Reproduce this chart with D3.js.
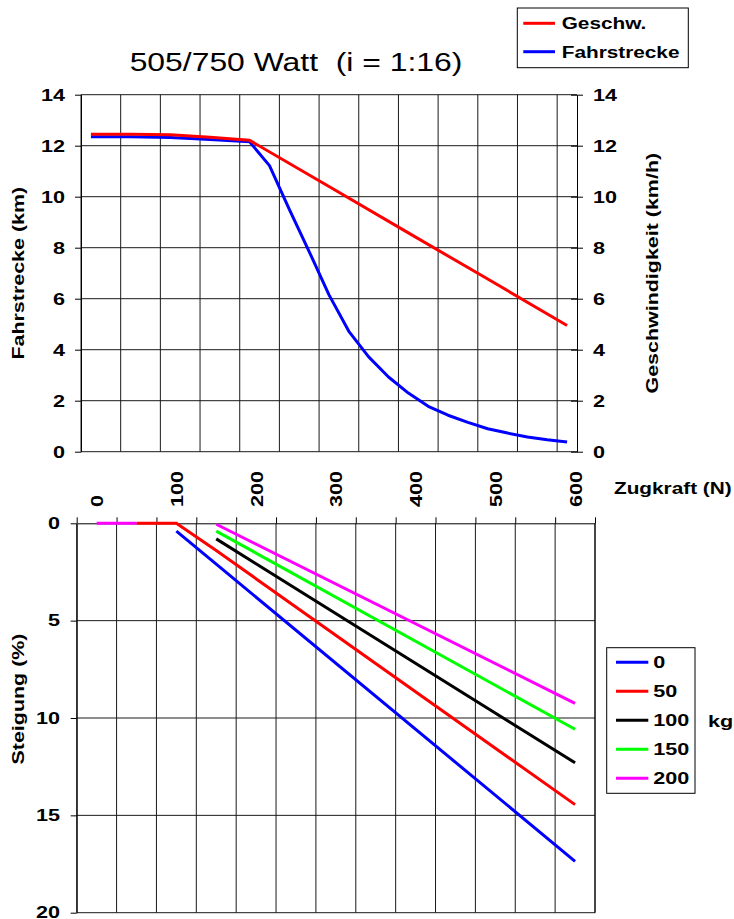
<!DOCTYPE html>
<html>
<head>
<meta charset="utf-8">
<script src="https://cdn.jsdelivr.net/npm/d3@7"></script>
<style>
html,body{margin:0;padding:0;background:#fff;}
svg{display:block;}
text{font-family:"Liberation Sans",Arial,sans-serif;white-space:pre;}
</style>
</head>
<body>
<svg id="c" width="734" height="919"></svg>
<script>
// ---------------- DATA ----------------
const title = "505/750 Watt  (i = 1:16)";
// Top chart
const fahrForce = [0,50,100,150,200,225,250,275,300,325,350,375,400,425,450,475,500,525,550,575,600];
const fahrstrecke = [12.35,12.35,12.32,12.24,12.15,11.22,9.5,7.85,6.15,4.72,3.72,2.93,2.3,1.78,1.43,1.15,0.9,0.73,0.58,0.47,0.38];
const geschwForce = [0,50,100,150,200,300,400,500,600];
const geschw = [12.45,12.45,12.43,12.33,12.21,10.4,8.58,6.77,4.95];
const topYTicks = [0,2,4,6,8,10,12,14];
const topLegend = ["Geschw.","Fahrstrecke"];
// Bottom chart
const steigForce = [0,50,100,150,600];
const massLabels = ["0","50","100","150","200"];
const steig0   = [null,null,0.4,2.1,17.36];
const steig50  = [null,0,0,1.4,14.45];
const steig100 = [null,null,null,0.8,12.3];
const steig150 = [null,null,null,0.4,10.58];
const steig200 = [0,0,null,0.05,9.25];
const bottomYTicks = [0,5,10,15,20];
const xTickLabels = [0,100,200,300,400,500,600];

// ---------------- DRAW ----------------
const svg = d3.select("#c");
const SX = 1.27; // horizontal stretch of glyphs
const FONT = 17;

function txt(g, x, y, s, o={}) {
  const rot = o.rotate ? ` rotate(${o.rotate})` : "";
  return g.append("text")
    .attr("transform", `translate(${x},${y})${rot} scale(${o.sx||SX},1)`)
    .attr("text-anchor", o.anchor || "start")
    .attr("dy", o.dy || 0)
    .attr("font-size", o.size || FONT)
    .attr("font-weight", o.weight || "bold")
    .attr("fill", "#000")
    .text(s);
}
function styleTicks(sel) {
  sel.attr("font-size", FONT).attr("font-weight", "bold")
    .attr("font-family", "Liberation Sans, Arial, sans-serif").attr("fill","#000");
}

// Title
txt(svg, 296, 70.5, title, {anchor:"middle", size:25.5, weight:"normal", sx:1.25});

// ---- Top chart ----
const xT = d3.scaleLinear([-12.5, 612.5], [81, 577]);
const yT = d3.scaleLinear([0, 14], [451.7, 94.7]);
const gT = svg.append("g");
const gridC = "#1a1a1a";
gT.selectAll(".vg").data(d3.range(-12.5, 600, 50)).join("line")
  .attr("x1", d=>xT(d)).attr("x2", d=>xT(d)).attr("y1", yT(0)).attr("y2", yT(14))
  .attr("stroke", gridC).attr("stroke-width", 1);
gT.selectAll(".hg").data(topYTicks).join("line")
  .attr("x1", xT(-12.5)).attr("x2", xT(612.5)).attr("y1", d=>yT(d)).attr("y2", d=>yT(d))
  .attr("stroke", gridC).attr("stroke-width", 1);
// left axis
const axL = gT.append("g").attr("transform", `translate(${xT(-12.5)},0)`)
  .call(d3.axisLeft(yT).tickValues(topYTicks).tickSize(6).tickSizeOuter(0).tickFormat(d3.format("d")));
axL.select(".domain").attr("stroke", "#000");
axL.selectAll(".tick line").attr("stroke", "#000");
styleTicks(axL.selectAll(".tick text").attr("x", null).attr("dy", "0.36em")
  .attr("transform", `translate(-16,0) scale(${SX},1)`));
// right axis
const axR = gT.append("g").attr("transform", `translate(${xT(612.5)},0)`)
  .call(d3.axisRight(yT).tickValues(topYTicks).tickSizeInner(6).tickSizeOuter(0).tickFormat(d3.format("d")));
axR.select(".domain").attr("stroke", "#000");
axR.selectAll(".tick line").attr("stroke", "#000").attr("x1", -6);
styleTicks(axR.selectAll(".tick text").attr("x", null).attr("dy", "0.36em")
  .attr("transform", `translate(16,0) scale(${SX},1)`));

const lineT = d3.line().x(d=>xT(d[0])).y(d=>yT(d[1]));
gT.append("path").datum(fahrForce.map((f,i)=>[f, fahrstrecke[i]]))
  .attr("d", lineT).attr("fill","none").attr("stroke","#0000ff").attr("stroke-width",3).attr("stroke-linejoin","round");
gT.append("path").datum(geschwForce.map((f,i)=>[f, geschw[i]]))
  .attr("d", lineT).attr("fill","none").attr("stroke","#ff0000").attr("stroke-width",3).attr("stroke-linejoin","round");

txt(svg, 18, (yT(0)+yT(14))/2, "Fahrstrecke (km)", {rotate:-90, anchor:"middle", dy:"0.36em", size:16.5, sx:1.3});
txt(svg, 652, (yT(0)+yT(14))/2, "Geschwindigkeit (km/h)", {rotate:-90, anchor:"middle", dy:"0.36em", size:16.5, sx:1.3});

// top legend
const lgT = svg.append("g");
lgT.append("rect").attr("x",517.3).attr("y",8).attr("width",171).attr("height",59.7)
  .attr("fill","#fff").attr("stroke","#000").attr("stroke-width",1);
const topLegColors = ["#ff0000","#0000ff"];
topLegend.forEach((s,i)=>{
  const y = 23.3 + i*28.4;
  lgT.append("line").attr("x1",523.3).attr("x2",555).attr("y1",y).attr("y2",y)
    .attr("stroke",topLegColors[i]).attr("stroke-width",3);
  txt(lgT, 561.7, y, s, {dy:"0.36em", size:16.5, sx:1.26});
});

// ---- Bottom chart ----
const xB = d3.scaleLinear([-25, 625], [76.7, 595]);
const yB = d3.scaleLinear([0, 20], [523.3, 912.7]);
const gB = svg.append("g");
gB.selectAll(".vg").data(d3.range(-25, 626, 50)).join("line")
  .attr("x1", d=>xB(d)).attr("x2", d=>xB(d)).attr("y1", yB(0)).attr("y2", yB(20))
  .attr("stroke", gridC).attr("stroke-width", 1);
gB.selectAll(".hg").data(bottomYTicks.slice(1)).join("line")
  .attr("x1", xB(-25)).attr("x2", xB(625)).attr("y1", d=>yB(d)).attr("y2", d=>yB(d))
  .attr("stroke", gridC).attr("stroke-width", 1);
// top axis (ticks)
const axTop = gB.append("g").attr("transform", `translate(0,${yB(0)})`)
  .call(d3.axisTop(xB).tickValues(d3.range(-25, 626, 50)).tickSize(6).tickSizeOuter(0).tickFormat(""));
axTop.select(".domain").attr("stroke","#000");
axTop.selectAll(".tick line").attr("stroke","#000");
// top axis labels
const axTopL = gB.append("g").attr("transform", `translate(0,507)`)
  .call(d3.axisTop(xB).tickValues(xTickLabels).tickSize(0).tickSizeOuter(0).tickFormat(d3.format("d")));
axTopL.select(".domain").remove();
styleTicks(axTopL.selectAll(".tick text").attr("y", null).attr("dy", "0.36em").attr("text-anchor","start")
  .attr("transform", `rotate(-90) scale(${SX},1)`));
txt(svg, 614, 494, "Zugkraft (N)", {size:16.5, sx:1.26});
// left axis
const axBL = gB.append("g").attr("transform", `translate(${xB(-25)},0)`)
  .call(d3.axisLeft(yB).tickValues(bottomYTicks).tickSize(6).tickSizeOuter(0).tickFormat(d3.format("d")));
axBL.select(".domain").attr("stroke","#000");
axBL.selectAll(".tick line").attr("stroke","#000");
styleTicks(axBL.selectAll(".tick text").attr("x", null).attr("dy", "0.3em")
  .attr("transform", `translate(-16.7,0) scale(${SX},1)`));
// right border
gB.append("line").attr("x1", xB(625)).attr("x2", xB(625)).attr("y1", yB(0)).attr("y2", yB(20)).attr("stroke","#000");
txt(svg, 18, 699, "Steigung (%)", {rotate:-90, anchor:"middle", dy:"0.36em", size:16.5, sx:1.3});

const series = [steig0, steig50, steig100, steig150, steig200];
const sColors = ["#0000ff","#ff0000","#000000","#00ff00","#ff00ff"];
const lineB = d3.line().defined(d=>d[1]!=null).x(d=>xB(d[0])).y(d=>yB(d[1]));
series.forEach((s,i)=>{
  gB.append("path").datum(steigForce.map((f,j)=>[f, s[j]]))
    .attr("d", lineB).attr("fill","none").attr("stroke", sColors[i]).attr("stroke-width",3);
});

// bottom legend
const lgB = svg.append("g");
lgB.append("rect").attr("x",606.7).attr("y",647.7).attr("width",88.3).attr("height",145.6)
  .attr("fill","#fff").attr("stroke","#000").attr("stroke-width",1);
massLabels.forEach((s,i)=>{
  const y = 662.3 + i*29;
  lgB.append("line").attr("x1",616).attr("x2",648.3).attr("y1",y).attr("y2",y)
    .attr("stroke",sColors[i]).attr("stroke-width",3);
  txt(lgB, 653.3, y, s, {dy:"0.36em"});
});
txt(svg, 708, 726.5, "kg");
</script>
</body>
</html>
